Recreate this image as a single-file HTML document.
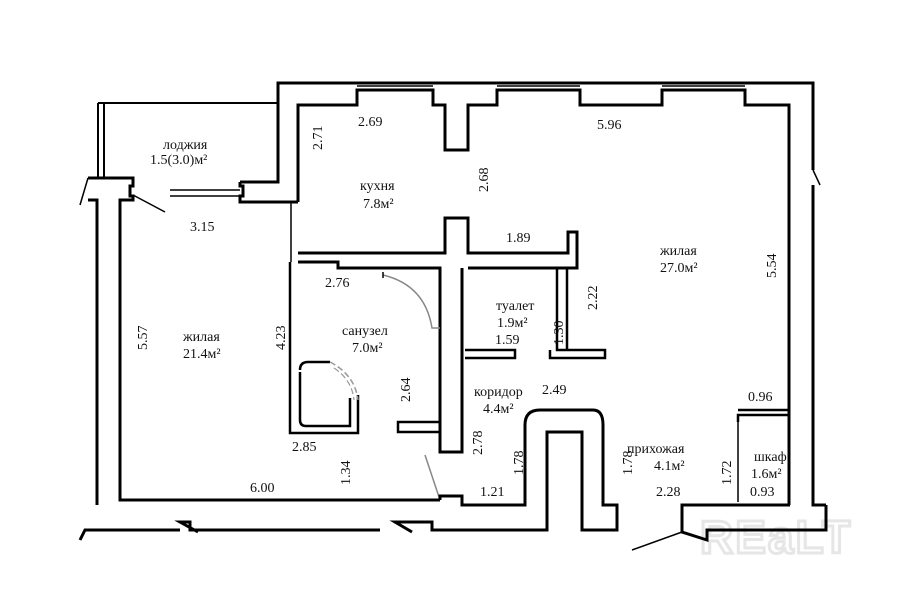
<!DOCTYPE html>
<html><head><meta charset="utf-8"><style>
html,body{margin:0;padding:0;background:#fff;}
svg{display:block;}
text{font-family:"Liberation Serif",serif;font-size:14px;fill:#111;}
</style></head><body>
<svg width="915" height="605" viewBox="0 0 915 605" xmlns="http://www.w3.org/2000/svg">
<rect width="915" height="605" fill="#fff"/>
<!-- watermark -->
<text x="700" y="553" style="font-family:'Liberation Sans',sans-serif;font-size:46px;fill:none;stroke:#e6e6e6;stroke-width:3;font-weight:bold;letter-spacing:2px">REaLT</text>
<g fill="none" stroke="#000" stroke-width="3" stroke-linejoin="miter">
<path d="M98 103 H278" stroke-width="2"/>
<path d="M98 103 V178 M104 103 V178" stroke-width="2"/>
<path d="M88 200 H97 V505 M88 178 H133 V186 H130 V196 H133 V200 H120 V500 H440"/>
<path d="M240 182 H278 V83 H795 M240 182 V186 H243 V196 H240 V202 H298"/>
<path d="M170 190 H240 M170 196 H240" stroke-width="1.5"/>
<path d="M298 202 V105 H357 V90 H433 V105 H445 V150 H468 V105 H497 V90 H580 V105 H662 V90 H745 V105 H789 V505"/>
<path d="M357 86 H433 M497 86 H580 M662 86 H745" stroke-width="1.5"/>
<path d="M795 83 H813 V170 M813 185 V505 H826"/>
<path d="M813 170 L820 185" stroke-width="1.5"/>
<path d="M298 253 H445 V218 H468 V253 H568 V232 H577 V268 H468"/>
<path d="M291 202 V262" stroke-width="1.5"/>
<path d="M298 262 H338 V268 H440 V452 H462 V268"/>
<path d="M290 262 V433 H358 V395" stroke-width="2.5"/>
<path d="M557 268 V350 H605 V358 H550 V350 M567 268 V350" stroke-width="2.5"/>
<path d="M465 350 H515 V358 H465" stroke-width="2.5"/>
<path d="M398 422 H440 V432 H398 Z" stroke-width="2.5"/>
<path d="M300 370 Q300 362 308 362 H330 M300 372 V420 Q300 426 306 426 H350 V398" stroke-width="2.5"/>
<path d="M330 362 Q355 375 358 400" stroke="#999" stroke-width="1.5" stroke-dasharray="6 3"/>
<path d="M334 368 Q352 380 354 400" stroke="#999" stroke-width="1.2" stroke-dasharray="6 3"/>
<path d="M383 275 Q425 285 432 328 H440" stroke="#888" stroke-width="1.5"/>
<path d="M383 272 V278" stroke-width="1.5"/>
<path d="M425 455 L440 500" stroke="#888" stroke-width="1.5"/>
<path d="M440 500 V496 H462 V505 H525 V425 Q525 410 540 410 H593 Q603 410 603 425 V505 H617 V530 H582 V432 H547 V530 H432 V522 H395 L412 532 M380 530 H190 V522 H180 L198 532 M180 530 H85 L80 540"/>
<path d="M790 505 H682 V532 L707 540 V530 H826 L826 505"/>
<path d="M682 532 L632 550" stroke-width="1.5"/>
<path d="M738 422 V415 H790 M738 410 H790" stroke-width="2.5"/>
<path d="M738 418 V502" stroke-width="1.5"/>
<path d="M88 178 L80 205 M97 200 L88 200" stroke-width="1.5"/>
<path d="M133 195 L165 212" stroke-width="1.5"/>
</g>
<text x="163" y="149">лоджия</text>
<text x="150" y="164">1.5(3.0)м²</text>
<text x="190" y="231">3.15</text>
<text x="358" y="126">2.69</text>
<text x="597" y="129">5.96</text>
<text x="360" y="190">кухня</text>
<text x="363" y="208">7.8м²</text>
<text x="506" y="242">1.89</text>
<text x="660" y="255">жилая</text>
<text x="660" y="272">27.0м²</text>
<text x="325" y="287">2.76</text>
<text x="496" y="310">туалет</text>
<text x="497" y="327">1.9м²</text>
<text x="495" y="344">1.59</text>
<text x="183" y="341">жилая</text>
<text x="183" y="358">21.4м²</text>
<text x="342" y="335">санузел</text>
<text x="352" y="352">7.0м²</text>
<text x="474" y="396">коридор</text>
<text x="483" y="413">4.4м²</text>
<text x="542" y="394">2.49</text>
<text x="748" y="401">0.96</text>
<text x="292" y="451">2.85</text>
<text x="627" y="453">прихожая</text>
<text x="654" y="470">4.1м²</text>
<text x="754" y="461">шкаф</text>
<text x="751" y="478">1.6м²</text>
<text x="250" y="492">6.00</text>
<text x="480" y="496">1.21</text>
<text x="656" y="496">2.28</text>
<text x="750" y="496">0.93</text>
<g>
<text transform="translate(322 150) rotate(-90)">2.71</text>
<text transform="translate(488 192) rotate(-90)">2.68</text>
<text transform="translate(776 278) rotate(-90)">5.54</text>
<text transform="translate(597 310) rotate(-90)">2.22</text>
<text transform="translate(563 345) rotate(-90)">1.30</text>
<text transform="translate(147 350) rotate(-90)">5.57</text>
<text transform="translate(285 350) rotate(-90)">4.23</text>
<text transform="translate(410 402) rotate(-90)">2.64</text>
<text transform="translate(482 455) rotate(-90)">2.78</text>
<text transform="translate(350 485) rotate(-90)">1.34</text>
<text transform="translate(523 475) rotate(-90)">1.78</text>
<text transform="translate(632 475) rotate(-90)">1.78</text>
<text transform="translate(731 485) rotate(-90)">1.72</text>
</g>
</svg>
</body></html>
